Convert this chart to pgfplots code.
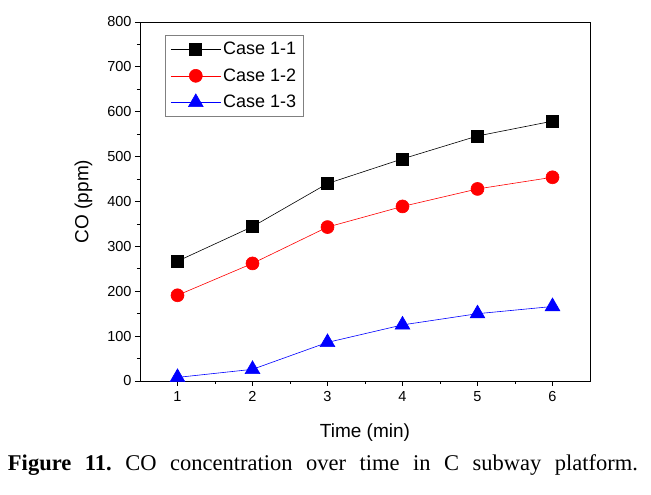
\documentclass[border=0pt]{standalone}
\usepackage{pgfplots}
\pgfplotsset{compat=1.18}
\usepackage{fontspec}
\setmainfont{Liberation Sans}
\newfontfamily\capfont{Liberation Serif}
\begin{document}
\begin{tikzpicture}[x=1pt,y=1pt]
\path (-140,-114) rectangle (511,381);
\begin{axis}[
  at={(0,0)}, anchor=origin,
  scale only axis, width=450pt, height=359pt,
  xmin=0.5, xmax=6.5, ymin=0, ymax=800,
  xtick={1,...,6}, ytick={0,100,...,800},
  minor x tick num=1, minor y tick num=1,
  tick align=outside, tick pos=left,
  major tick length=5pt, minor tick length=3pt,
  every tick/.style={black, line width=0.8pt},
  axis line style={line width=0.8pt},
  tick label style={font=\fontsize{14.5}{16}\selectfont},
  xticklabel style={yshift=-2pt},
  /pgf/number format/assume math mode=true,
  xlabel={Time (min)}, ylabel={CO (ppm)},
  label style={font=\fontsize{19}{21}\selectfont},
  xlabel style={yshift=-15pt},
  ylabel style={yshift=8pt},
  legend style={at={(0.056,0.964)}, anchor=north west, font=\fontsize{18}{21}\selectfont, draw=gray, line width=0.6pt, inner sep=5pt, row sep=8.5pt},
  legend cell align=left,
  legend image code/.code={\draw[mark repeat=2, mark phase=2, #1] plot coordinates {(0pt,0pt) (25pt,0pt) (50pt,0pt)};},
]
\addplot[black, line width=0.6pt, mark=square*, mark size=6pt, mark options={solid}] coordinates {(1,267) (2,344) (3,440) (4,495) (5,546) (6,579)};
\addlegendentry{Case 1-1}
\addplot[red, line width=0.6pt, mark=*, mark size=6.5pt] coordinates {(1,191) (2,262) (3,343) (4,389) (5,428) (6,454)};
\addlegendentry{Case 1-2}
\addplot[blue, line width=0.6pt, mark=triangle*, mark size=8.5pt] coordinates {(1,8) (2,26) (3,86) (4,125) (5,150) (6,166)};
\addlegendentry{Case 1-3}
\end{axis}
\node at (183,-84) {\capfont\frenchspacing\fontsize{22.5}{24}\selectfont\makebox[630pt][s]{\textbf{Figure 11.} CO concentration over time in C subway platform.}};
\end{tikzpicture}
\end{document}
